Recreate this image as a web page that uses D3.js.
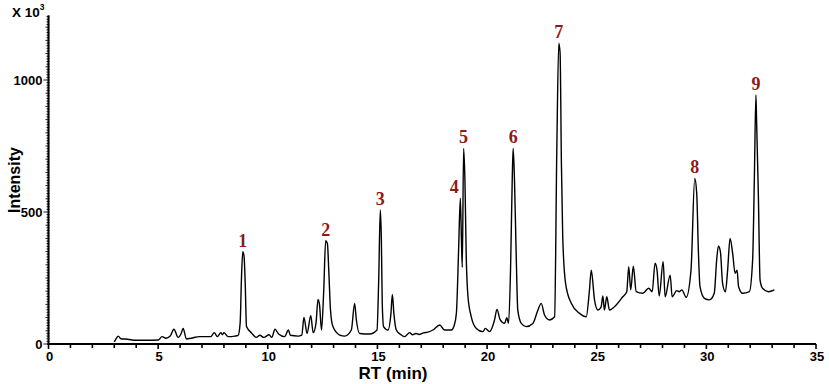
<!DOCTYPE html>
<html>
<head>
<meta charset="utf-8">
<script src="https://cdn.jsdelivr.net/npm/d3@7"></script>
<style>
  html, body { margin: 0; padding: 0; background: #fff; }
  svg { display: block; }
</style>
</head>
<body>
<svg id="chart" width="829" height="384"></svg>
<script>
// ---- data ----
const rt = [3.00,3.10,3.18,3.30,3.60,4.00,4.50,5.00,5.18,5.35,5.55,5.72,5.91,6.05,6.14,6.29,6.50,6.90,7.40,7.56,7.70,7.86,7.93,8.00,8.19,8.50,8.65,8.74,8.80,8.86,8.92,8.97,9.03,9.26,9.48,9.64,9.82,10.06,10.18,10.33,10.49,10.77,10.94,11.03,11.38,11.55,11.65,11.79,11.96,12.07,12.20,12.29,12.36,12.45,12.55,12.64,12.72,12.78,12.86,12.97,13.28,13.51,13.81,13.96,14.04,14.19,14.65,14.98,15.06,15.13,15.18,15.22,15.28,15.48,15.62,15.68,15.75,15.86,16.09,16.24,16.47,16.60,16.75,16.90,17.10,17.30,17.53,17.84,18.06,18.37,18.50,18.60,18.70,18.78,18.83,18.87,18.93,18.99,19.05,19.13,19.28,19.51,19.81,19.92,20.11,20.34,20.45,20.60,20.80,20.90,20.98,21.07,21.15,21.19,21.25,21.33,21.40,21.56,21.78,22.09,22.32,22.47,22.62,22.85,23.08,23.18,23.27,23.33,23.39,23.45,23.58,23.84,24.22,24.52,24.67,24.75,24.90,25.05,25.20,25.28,25.35,25.46,25.58,25.89,26.19,26.37,26.46,26.55,26.67,26.80,27.10,27.37,27.53,27.66,27.75,27.85,28.03,28.12,28.35,28.44,28.65,28.77,28.88,29.08,29.30,29.47,29.56,29.64,29.71,29.91,30.14,30.36,30.47,30.55,30.64,30.74,30.87,30.97,31.08,31.20,31.31,31.40,31.47,31.65,31.96,32.11,32.19,32.26,32.29,32.37,32.45,32.56,32.83,33.10];
const intensity = [8,22,30,20,18,14,14,15,28,22,30,56,25,40,59,19,22,28,28,43,28,43,35,43,28,30,33,80,250,350,330,231,66,42,25,33,25,35,25,56,38,28,53,33,30,34,101,40,107,43,80,169,148,53,200,391,380,280,129,66,34,30,53,154,91,40,38,53,250,508,394,154,66,53,120,188,116,53,34,28,43,35,40,36,42,45,53,72,53,53,70,116,350,552,400,290,741,621,331,179,103,59,47,59,47,91,131,91,78,100,78,280,634,741,621,331,129,78,66,78,129,154,110,91,103,735,1139,1101,684,406,230,154,116,103,205,280,167,129,140,182,129,179,129,148,179,198,293,205,295,198,192,211,198,306,280,182,312,179,261,179,202,198,205,177,280,627,571,343,217,173,167,192,318,371,350,230,198,280,400,343,268,280,217,192,198,318,634,943,848,571,242,211,198,205];

const peakIds = ["1","2","3","4","5","6","7","8","9"];
const peakRT  = [8.86,12.64,15.13,18.78,18.93,21.19,23.27,29.47,32.26];

const xTickLabels = [0,5,10,15,20,25,30,35];
const yTickLabels = [0,500,1000];

// ---- layout ----
const svg = d3.select("#chart");
const x = d3.scaleLinear().domain([0, 35]).range([48.5, 816]);
const y = d3.scaleLinear().domain([0, 1250]).range([344, 14]);

const labelFont = "'Liberation Sans', Arial, sans-serif";

// x axis
const xMinor = d3.range(0, 36, 1);
const gx = svg.append("g").attr("transform", `translate(0,${y(0)})`);
gx.append("line").attr("x1", x(0) - 1).attr("x2", x(35)).attr("stroke", "#000").attr("stroke-width", 2);
gx.selectAll("line.tick").data(xMinor).join("line")
  .attr("class", "tick")
  .attr("x1", d => x(d)).attr("x2", d => x(d))
  .attr("y1", 0).attr("y2", d => d % 5 === 0 ? 5 : 4)
  .attr("stroke", "#000").attr("stroke-width", 1.6);
gx.selectAll("text").data(xTickLabels).join("text")
  .attr("x", d => x(d) + 1).attr("y", 17)
  .attr("text-anchor", "middle")
  .attr("font-family", labelFont).attr("font-weight", "bold").attr("font-size", 13)
  .text(d => d);

// y axis
const yMinor = d3.range(0, 1250, 10);
const gy = svg.append("g").attr("transform", `translate(${x(0)},0)`);
gy.append("line").attr("y1", y(0) + 1).attr("y2", y(1245)).attr("stroke", "#000").attr("stroke-width", 2);
gy.selectAll("line.tick").data(yMinor).join("line")
  .attr("class", "tick")
  .attr("y1", d => y(d)).attr("y2", d => y(d))
  .attr("x1", d => d % 500 === 0 ? -5 : (d % 50 === 0 ? -3 : -2)).attr("x2", 1)
  .attr("stroke", "#000").attr("stroke-width", 0.9);
gy.selectAll("text").data(yTickLabels).join("text")
  .attr("x", -6).attr("y", d => y(d) + 4.5)
  .attr("text-anchor", "end")
  .attr("font-family", labelFont).attr("font-weight", "bold").attr("font-size", 13)
  .text(d => d);

// scale factor label
const sf = svg.append("text").attr("x", 12).attr("y", 17)
  .attr("font-family", labelFont).attr("font-weight", "bold").attr("font-size", 13.5);
sf.append("tspan").text("X 10");
sf.append("tspan").attr("dy", -7).attr("font-size", 8.5).text("3");

// axis titles
svg.append("text")
  .attr("transform", "translate(20,180) rotate(-90)")
  .attr("text-anchor", "middle")
  .attr("font-family", labelFont).attr("font-weight", "bold").attr("font-size", 16)
  .text("Intensity");
svg.append("text")
  .attr("x", 393).attr("y", 379)
  .attr("text-anchor", "middle")
  .attr("font-family", labelFont).attr("font-weight", "bold").attr("font-size", 17)
  .text("RT (min)");

// chromatogram
const pts = rt.map((t, i) => [t, intensity[i]]);
const line = d3.line().x(d => x(d[0])).y(d => y(d[1])).curve(d3.curveMonotoneX);
svg.append("path").datum(pts)
  .attr("d", line)
  .attr("fill", "none").attr("stroke", "#000").attr("stroke-width", 1.4)
  .attr("stroke-linejoin", "round");

// peak labels
function apexAt(t) {
  let best = 0;
  rt.forEach((r, i) => { if (Math.abs(r - t) < 0.04 && intensity[i] > best) best = intensity[i]; });
  return best;
}
svg.selectAll("text.peak").data(peakIds).join("text")
  .attr("class", "peak")
  .attr("x", (d, i) => x(peakRT[i]) + (d === "4" ? -6 : 0))
  .attr("y", (d, i) => y(apexAt(peakRT[i])) - 5)
  .attr("text-anchor", "middle")
  .attr("font-family", "'Liberation Serif', 'Times New Roman', serif")
  .attr("font-weight", "bold").attr("font-size", 18)
  .attr("fill", "#8b1a1a")
  .text(d => d);
</script>
</body>
</html>
